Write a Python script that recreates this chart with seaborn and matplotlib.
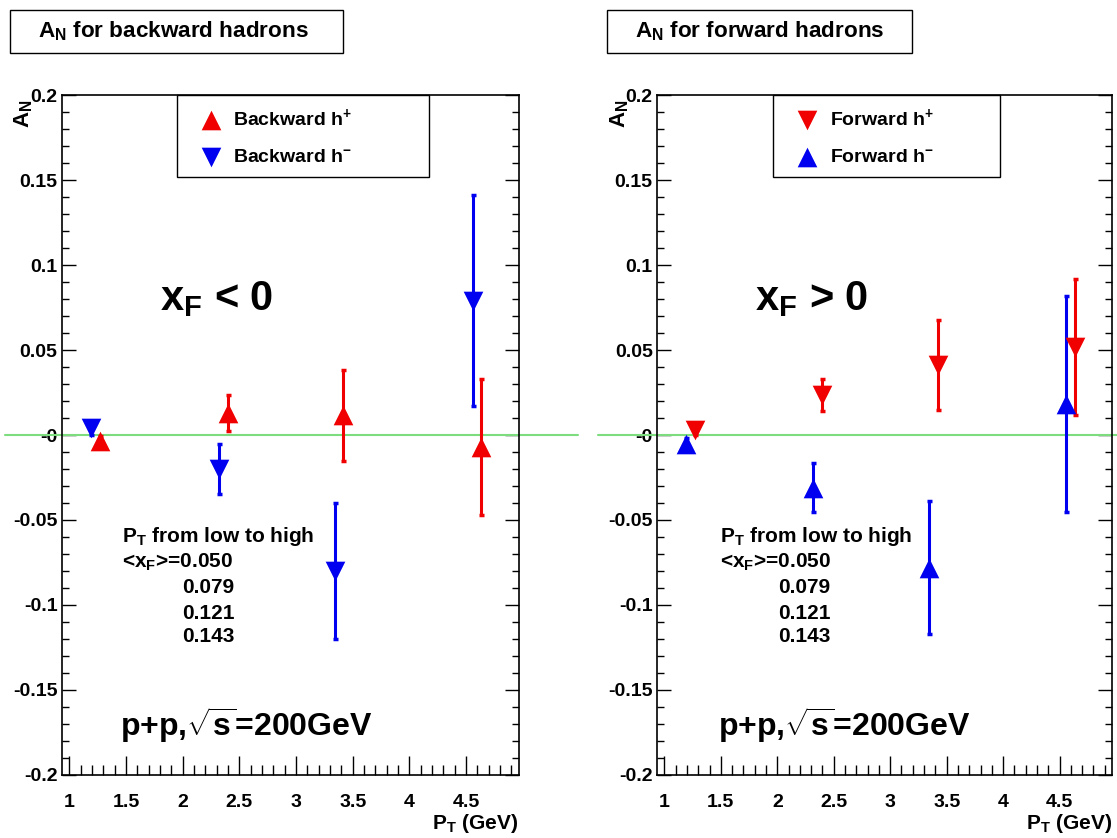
import numpy as np
import pandas as pd
import seaborn as sns
import matplotlib.pyplot as plt
from matplotlib.patches import Rectangle
from matplotlib.ticker import MultipleLocator, FuncFormatter

sns.set_style('ticks')
plt.rcParams['font.family'] = ['Liberation Sans', 'DejaVu Sans']
plt.rcParams['font.weight'] = 'bold'
plt.rcParams['text.color'] = 'black'
plt.rcParams['axes.labelcolor'] = 'black'
plt.rcParams['mathtext.fontset'] = 'custom'
plt.rcParams['mathtext.rm'] = 'Liberation Sans:bold'
plt.rcParams['mathtext.it'] = 'Liberation Sans:bold'
plt.rcParams['mathtext.bf'] = 'Liberation Sans:bold'
plt.rcParams['mathtext.sf'] = 'Liberation Sans:bold'

# backward hadrons (x_F < 0)
pt_back_pos = [1.27, 2.40, 3.41, 4.63]
an_back_pos = [-0.0035, 0.013, 0.0115, -0.007]
err_back_pos = [0.003, 0.0105, 0.027, 0.040]
pt_back_neg = [1.19, 2.32, 3.34, 4.56]
an_back_neg = [0.004, -0.020, -0.080, 0.079]
err_back_neg = [0.004, 0.0145, 0.040, 0.062]

# forward hadrons (x_F > 0)
pt_fwd_pos = [1.27, 2.40, 3.42, 4.64]
an_fwd_pos = [0.003, 0.0235, 0.041, 0.052]
err_fwd_pos = [0.003, 0.0095, 0.0265, 0.040]
pt_fwd_neg = [1.19, 2.32, 3.34, 4.56]
an_fwd_neg = [-0.0055, -0.031, -0.078, 0.018]
err_fwd_neg = [0.004, 0.0145, 0.039, 0.0635]

xf_values = ['0.050', '0.079', '0.121', '0.143']

RED = '#f00000'
BLUE = '#0000f0'
GREEN = '#7ddc7d'


def make_df(pt, an, err):
    return pd.DataFrame({'pt': pt, 'an': an, 'err': err})


def draw_series(ax, df, color, marker, label):
    ax.errorbar(df['pt'], df['an'], yerr=df['err'], fmt='none', ecolor=color,
                elinewidth=2.2, capsize=1.8, capthick=2.5, zorder=3)
    sns.scatterplot(data=df, x='pt', y='an', ax=ax, color=color, marker=marker,
                    s=200, linewidth=0, label=label, zorder=4, legend=False)


def style_axes(ax, line_ext):
    ax.set_xlim(0.933, 4.962)
    ax.set_ylim(-0.2, 0.2)
    ax.xaxis.set_major_locator(MultipleLocator(0.5))
    ax.xaxis.set_minor_locator(MultipleLocator(0.1))
    ax.yaxis.set_major_locator(MultipleLocator(0.05))
    ax.yaxis.set_minor_locator(MultipleLocator(0.01))
    ax.xaxis.set_major_formatter(FuncFormatter(lambda v, p: '{:g}'.format(v)))
    ax.yaxis.set_major_formatter(FuncFormatter(
        lambda v, p: '-0' if abs(v) < 1e-9 else '{:g}'.format(round(v, 3))))
    ax.tick_params(axis='both', which='both', direction='in', colors='black',
                   labelsize=14, width=1)
    ax.tick_params(axis='y', which='both', left=True, right=True, pad=3)
    ax.tick_params(axis='y', which='major', length=10)
    ax.tick_params(axis='y', which='minor', length=5)
    ax.tick_params(axis='x', which='both', bottom=True, top=False, pad=13.5)
    ax.tick_params(axis='x', which='major', length=14)
    ax.tick_params(axis='x', which='minor', length=7)
    for lab in ax.get_xticklabels() + ax.get_yticklabels():
        lab.set_fontweight('bold')
    for sp in ax.spines.values():
        sp.set_color('black')
        sp.set_linewidth(1.2)
    ax.axhline(0, xmin=line_ext[0], xmax=line_ext[1], clip_on=False,
               color=GREEN, lw=1.5, zorder=1)
    ax.set_xlabel('P$_{T}$ (GeV)', loc='right', fontsize=15, fontweight='bold', labelpad=1)
    ax.set_ylabel('')
    ax.text(-0.082, 0.993, 'A$_{N}$', transform=ax.transAxes, rotation=90,
            ha='center', va='top', fontsize=16, fontweight='bold')


fig = plt.figure(figsize=(11.17, 8.38), dpi=100)
ax1 = fig.add_axes([0.0552, 0.0752, 0.409, 0.8114])
ax2 = fig.add_axes([0.588, 0.0752, 0.4073, 0.8114])

# left panel: backward
draw_series(ax1, make_df(pt_back_neg, an_back_neg, err_back_neg), BLUE, 'v', 'Backward h$^{-}$')
draw_series(ax1, make_df(pt_back_pos, an_back_pos, err_back_pos), RED, '^', 'Backward h$^{+}$')
style_axes(ax1, (-0.125, 1.13))

# right panel: forward
draw_series(ax2, make_df(pt_fwd_pos, an_fwd_pos, err_fwd_pos), RED, 'v', 'Forward h$^{+}$')
draw_series(ax2, make_df(pt_fwd_neg, an_fwd_neg, err_fwd_neg), BLUE, '^', 'Forward h$^{-}$')
style_axes(ax2, (-0.13, 1.02))


def add_legend(ax, order, x0, x1):
    handles, labels = ax.get_legend_handles_labels()
    handles = [handles[i] for i in order]
    labels = [labels[i] for i in order]
    leg = ax.legend(handles, labels, loc='upper left',
                    bbox_to_anchor=(x0, 1.0, x1 - x0, 0.0), mode='expand',
                    borderaxespad=0, fancybox=False, frameon=True,
                    edgecolor='black', framealpha=1, prop={'size': 14, 'weight': 'bold'},
                    borderpad=0.6, labelspacing=1.0, handlelength=2.3,
                    handletextpad=0.0)
    leg.get_frame().set_linewidth(1.0)


add_legend(ax1, [1, 0], 0.252, 0.805)
add_legend(ax2, [0, 1], 0.256, 0.755)


def add_annotations(ax, sign_text, xs):
    ax.text(xs[0], 0.70, 'x$_{F}$ ' + sign_text + ' 0', transform=ax.transAxes,
            ha='left', va='center', fontsize=30, fontweight='bold')
    ax.text(xs[1], 0.35, 'P$_{T}$ from low to high', transform=ax.transAxes,
            ha='left', va='center', fontsize=15, fontweight='bold')
    ax.text(xs[1], 0.313, '<x$_{F}$>=' + xf_values[0], transform=ax.transAxes,
            ha='left', va='center', fontsize=15, fontweight='bold')
    ypos = [0.275, 0.238, 0.203]
    for yv, val in zip(ypos, xf_values[1:]):
        ax.text(xs[2], yv, val, transform=ax.transAxes,
                ha='right', va='center', fontsize=15, fontweight='bold')
    ax.text(xs[1] - 0.004, 0.0735, 'p+p,$\\sqrt{s}$=200GeV', transform=ax.transAxes,
            ha='left', va='center', fontsize=23, fontweight='bold')


add_annotations(ax1, '<', (0.215, 0.132, 0.378))
add_annotations(ax2, '>', (0.216, 0.139, 0.381))

# title boxes
W, H = 1117.0, 838.0
for (bx0, bx1), title in [((10, 343), 'A$_{N}$ for backward hadrons'),
                          ((607, 912), 'A$_{N}$ for forward hadrons')]:
    fig.add_artist(Rectangle((bx0 / W, 1 - 53 / H), (bx1 - bx0) / W, 43 / H,
                             transform=fig.transFigure, fill=False,
                             edgecolor='black', linewidth=1.0))
    fig.text((bx0 + 28) / W, 1 - 31.5 / H, title, ha='left', va='center',
             fontsize=16.2, fontweight='bold')

plt.savefig('out.png', dpi=100)
